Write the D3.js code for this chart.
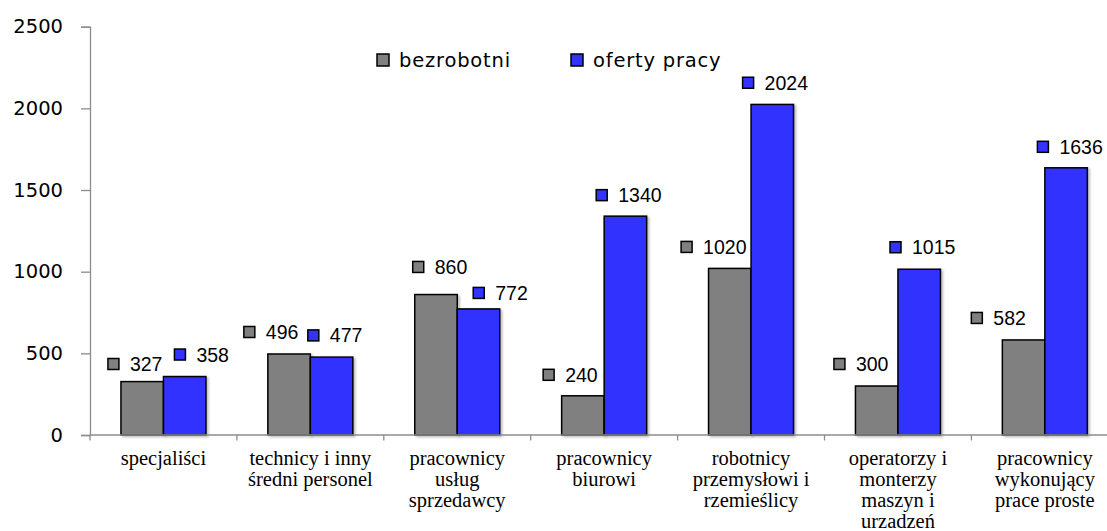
<!DOCTYPE html>
<html>
<head>
<meta charset="utf-8">
<script src="https://cdn.jsdelivr.net/npm/d3@7/dist/d3.min.js"></script>
<style>
  html, body { margin: 0; padding: 0; background: #fff; }
  svg { display: block; }
</style>
</head>
<body>
<svg id="chart" width="1107" height="531"></svg>
<script>
// ---------- data ----------
const categories = [
  "specjaliści",
  "technicy i inny średni personel",
  "pracownicy usług sprzedawcy",
  "pracownicy biurowi",
  "robotnicy przemysłowi i rzemieślicy",
  "operatorzy i monterzy maszyn i urzadzeń",
  "pracownicy wykonujący prace proste"
];
const categoryLines = [
  ["specjaliści"],
  ["technicy i inny", "średni personel"],
  ["pracownicy", "usług", "sprzedawcy"],
  ["pracownicy", "biurowi"],
  ["robotnicy", "przemysłowi i", "rzemieślicy"],
  ["operatorzy i", "monterzy", "maszyn i", "urzadzeń"],
  ["pracownicy", "wykonujący", "prace proste"]
];
const seriesNames = ["bezrobotni", "oferty pracy"];
const bezrobotni = [327, 496, 860, 240, 1020, 300, 582];
const ofertyPracy = [358, 477, 772, 1340, 2024, 1015, 1636];
const yTicks = [0, 500, 1000, 1500, 2000, 2500];

// manual data-label nudges (label centre vs. bar centre / bar top)
const labelDxBezrobotni = [-7, -18, 4, -12.5, -16, -15.5, -25];
const labelDxOferty = [17, 3.5, 22, 3.5, 3, 3.5, 4];
const labelDyBezrobotni = [-17.6, -22, -27.6, -21, -21.5, -22, -22];
const labelDyOferty = [-22, -21.7, -16, -21, -21.7, -22, -21];

// ---------- styles ----------
const colors = ["#808080", "#3333FF"];
const axisColor = "#8c8c8c";

const svg = d3.select("#chart");
const defs = svg.append("defs");
const f = defs.append("filter").attr("id", "shadow")
  .attr("x", "-20%").attr("y", "-5%").attr("width", "150%").attr("height", "115%");
f.append("feDropShadow").attr("dx", 2).attr("dy", 1.5).attr("stdDeviation", 1.2)
  .attr("flood-color", "#000").attr("flood-opacity", 0.25);

const left = 90, bandW = 146.9;
const x = d3.scaleBand().domain(categories).range([left, left + bandW * categories.length]).padding(0);
const pairW = 85;
const x1 = d3.scaleBand().domain(seriesNames)
  .range([(x.bandwidth() - pairW) / 2, (x.bandwidth() + pairW) / 2]).padding(0);
const y = d3.scaleLinear().domain([0, 2500]).range([435, 26.7]);

// ---------- y axis ----------
const yAxis = svg.append("g").attr("transform", `translate(${left},0)`)
  .call(d3.axisLeft(y).tickValues(yTicks).tickSize(9).tickPadding(18).tickFormat(d3.format("d")));
yAxis.select(".domain").attr("stroke", axisColor).attr("stroke-width", 1.3);
yAxis.selectAll(".tick line").attr("stroke", axisColor).attr("stroke-width", 1.3);
yAxis.selectAll(".tick text")
  .attr("fill", "#000")
  .style("font-family", "'DejaVu Sans', sans-serif")
  .style("font-size", "19.5px");

// ---------- bars ----------
const data = categories.map((c, i) => ({ c, i, vals: [bezrobotni[i], ofertyPracy[i]] }));
const groups = svg.append("g").selectAll("g").data(data).join("g")
  .attr("transform", d => `translate(${x(d.c)},0)`);
groups.selectAll("rect").data(d => d.vals.map((v, k) => ({ v, k }))).join("rect")
  .attr("x", d => x1(seriesNames[d.k]))
  .attr("y", d => y(d.v))
  .attr("width", x1.bandwidth())
  .attr("height", d => y(0) - y(d.v))
  .attr("fill", d => colors[d.k])
  .attr("stroke", "#000")
  .attr("stroke-width", 1.5)
  .attr("filter", "url(#shadow)");

// ---------- x axis ----------
const xAxis = svg.append("g");
xAxis.append("line")
  .attr("x1", left).attr("x2", x.range()[1])
  .attr("y1", y(0)).attr("y2", y(0))
  .attr("stroke", axisColor).attr("stroke-width", 1.3);
const boundaries = categories.map(c => x(c)).concat([x.range()[1]]);
xAxis.selectAll("line.tk").data(boundaries).join("line").attr("class", "tk")
  .attr("x1", d => d).attr("x2", d => d)
  .attr("y1", y(0)).attr("y2", y(0) + 5.5)
  .attr("stroke", axisColor).attr("stroke-width", 1.3);
const xl = xAxis.selectAll("text.cat").data(data).join("text").attr("class", "cat")
  .attr("x", d => x(d.c) + x.bandwidth() / 2)
  .attr("y", 464.5)
  .attr("text-anchor", "middle")
  .style("font-family", "'Liberation Serif', 'Times New Roman', serif")
  .style("font-size", "20.5px")
  .attr("fill", "#000");
xl.selectAll("tspan").data(d => categoryLines[d.i]).join("tspan")
  .attr("x", function () { return d3.select(this.parentNode).attr("x"); })
  .attr("dy", (d, j) => j === 0 ? 0 : 21.1)
  .text(d => d);

// ---------- data labels ----------
const labelData = [];
data.forEach(d => {
  d.vals.forEach((v, k) => {
    labelData.push({
      v, k,
      cx: x(d.c) + x1(seriesNames[k]) + x1.bandwidth() / 2 + (k === 0 ? labelDxBezrobotni[d.i] : labelDxOferty[d.i]),
      cy: y(v) + (k === 0 ? labelDyBezrobotni[d.i] : labelDyOferty[d.i])
    });
  });
});
const lab = svg.append("g").selectAll("g").data(labelData).join("g");
lab.append("rect")
  .attr("x", 0).attr("y", -5.5).attr("width", 11).attr("height", 11)
  .attr("fill", d => colors[d.k]).attr("stroke", "#000").attr("stroke-width", 1.5);
lab.append("text")
  .attr("x", 22).attr("y", 0).attr("dy", "0.36em")
  .style("font-family", "'Liberation Sans', Arial, sans-serif")
  .style("font-size", "19.5px")
  .attr("fill", "#000")
  .text(d => d.v);
lab.each(function (d) {
  const tw = d3.select(this).select("text").node().getComputedTextLength();
  const w = 22 + tw;
  d3.select(this).attr("transform", `translate(${d.cx - w / 2},${d.cy})`);
});

// ---------- legend ----------
const legendX = [377, 571];
const leg = svg.append("g").selectAll("g").data(seriesNames).join("g")
  .attr("transform", (d, i) => `translate(${legendX[i]},60)`);
leg.append("rect").attr("x", 0).attr("y", -6).attr("width", 12).attr("height", 12)
  .attr("fill", (d, i) => colors[i]).attr("stroke", "#000").attr("stroke-width", 1.5);
leg.append("text").attr("x", 22).attr("y", 0).attr("dy", "0.35em")
  .style("font-family", "'DejaVu Sans', sans-serif")
  .style("font-size", "19.5px")
  .style("letter-spacing", "0.8px")
  .attr("fill", "#000")
  .text(d => d);
</script>
</body>
</html>
